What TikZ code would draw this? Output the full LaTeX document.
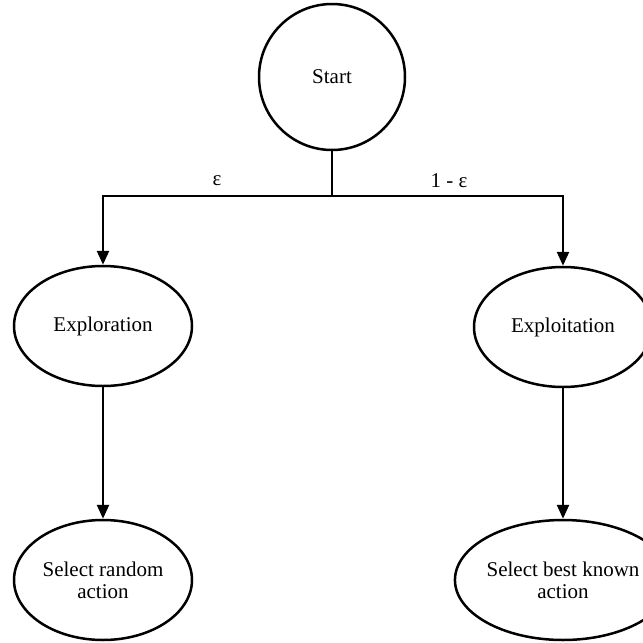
\documentclass[tikz,border=0pt]{standalone}
\usepackage{fontspec}
\setmainfont{Liberation Serif}
\usetikzlibrary{shapes.geometric,arrows.meta}
\begin{document}
\begin{tikzpicture}[x=1pt,y=-1pt,
  txt/.style={font=\fontsize{21}{22}\selectfont, align=center},
  blob/.style={ellipse, draw, line width=2.5pt, minimum width=178pt, minimum height=120pt, inner sep=0pt, txt},
  startc/.style={circle, draw, line width=2.5pt, minimum size=146pt, inner sep=0pt, txt},
  conn/.style={line width=2.5pt},
  arr/.style={line width=2.5pt, -{Triangle[length=14pt,width=12pt]}}]
\useasboundingbox (0,0) rectangle (643,643);
\node[startc] (start) at (332,77) {Start};
\node[blob] (explore) at (103,326) {Exploration};
\node[blob] (exploit) at (563,327) {Exploitation};
\node[blob] (random) at (103,580) {Select random\\action};
\node[blob] (best) at (563,580) {Select best known\\action};
\coordinate (junc) at (332,196);
\draw[conn] (start.south) -- (junc);
\draw[arr] (junc) -| (explore.north);
\draw[arr] (junc) -| (exploit.north);
\draw[arr] (explore.south) -- (random.north);
\draw[arr] (exploit.south) -- (best.north);
\node[txt] (eps) at (217,181) {ε};
\node[txt] (oneeps) at (449,181) {1 - ε};
\end{tikzpicture}
\end{document}
